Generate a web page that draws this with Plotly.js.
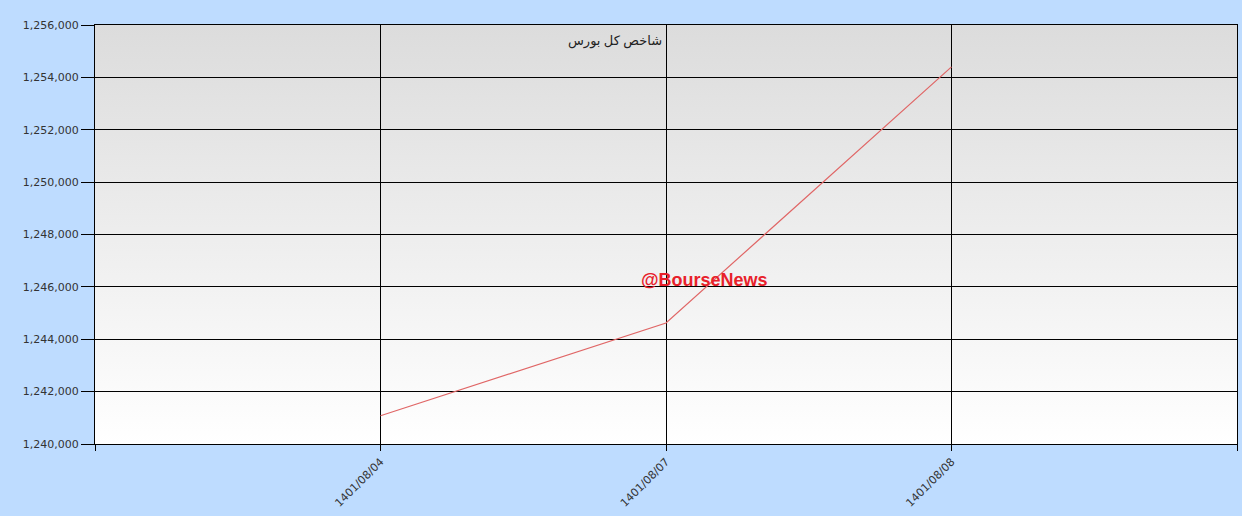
<!DOCTYPE html>
<html>
<head>
<meta charset="utf-8">
<script src="https://cdn.plot.ly/plotly-3.0.1.min.js"></script>
<style>html,body{margin:0;padding:0;background:#BEDCFF;}#chart{width:1242px;height:516px;}</style>
</head>
<body>
<div id="chart"></div>
<script>
const dates = ['1401/08/04', '1401/08/07', '1401/08/08'];
const indexValues = [1241080, 1244620, 1254400];
const yTicks = [1240000, 1242000, 1244000, 1246000, 1248000, 1250000, 1252000, 1254000, 1256000];
const seriesName = 'شاخص کل بورس';
const watermark = '@BourseNews';

const xIdx = dates.map((d, i) => i);
const tickVals = [-1].concat(xIdx, [dates.length]);
const tickText = [''].concat(dates, ['']);

const gradSvg = "<svg xmlns='http://www.w3.org/2000/svg' width='10' height='100' preserveAspectRatio='none'><defs><linearGradient id='g' x1='0' y1='0' x2='0' y2='1'><stop offset='0' stop-color='#DCDCDC'/><stop offset='1' stop-color='#FFFFFF'/></linearGradient></defs><rect width='10' height='100' fill='url(#g)'/></svg>";

const trace = {
  x: xIdx,
  y: indexValues,
  type: 'scatter',
  mode: 'lines',
  name: seriesName,
  line: {color: '#E06666', width: 1.2},
  hoverinfo: 'skip'
};

const layout = {
  width: 1242, height: 516,
  margin: {l: 95, r: 5, t: 25, b: 72},
  paper_bgcolor: '#BEDCFF',
  plot_bgcolor: 'rgba(0,0,0,0)',
  showlegend: false,
  font: {family: 'DejaVu Sans, Verdana, sans-serif', size: 11, color: '#222'},
  xaxis: {
    type: 'linear',
    range: [-1, dates.length],
    tickvals: tickVals,
    ticktext: tickText,
    tickangle: -45,
    ticks: 'outside', ticklen: 6, tickcolor: '#000', tickwidth: 1,
    showgrid: true, gridcolor: '#000', gridwidth: 1,
    showline: true, linecolor: '#000', linewidth: 1, mirror: true,
    zeroline: false,
    tickfont: {family: 'DejaVu Sans, Verdana, sans-serif', size: 11, color: '#333'}
  },
  yaxis: {
    range: [yTicks[0], yTicks[yTicks.length - 1]],
    tickvals: yTicks,
    tickformat: ',d',
    ticks: 'outside', ticklen: 13, tickcolor: '#000', tickwidth: 1,
    showgrid: true, gridcolor: '#000', gridwidth: 1,
    showline: true, linecolor: '#000', linewidth: 1, mirror: true,
    zeroline: false,
    tickfont: {family: 'DejaVu Sans, Verdana, sans-serif', size: 11, color: '#333'}
  },
  images: [{
    source: 'data:image/svg+xml;charset=utf-8,' + encodeURIComponent(gradSvg),
    xref: 'paper', yref: 'paper', x: 0, y: 1, sizex: 1, sizey: 1,
    xanchor: 'left', yanchor: 'top', sizing: 'stretch', layer: 'below'
  }],
  annotations: [
    {
      text: seriesName, xref: 'x', yref: 'paper', x: 1, y: 1,
      xanchor: 'right', yanchor: 'top', xshift: -2, yshift: -4, showarrow: false,
      font: {family: 'Noto Sans, DejaVu Sans, sans-serif', size: 13, color: '#222'}
    },
    {
      text: '<b>' + watermark + '</b>', xref: 'paper', yref: 'paper',
      x: (704 - 95) / 1142, y: (444 - 280) / 419, xanchor: 'center', yanchor: 'middle',
      showarrow: false,
      font: {family: 'Liberation Sans, Arial, sans-serif', size: 18, color: '#E8202A'}
    }
  ]
};

Plotly.newPlot('chart', [trace], layout, {staticPlot: true, displayModeBar: false});
</script>
</body>
</html>
